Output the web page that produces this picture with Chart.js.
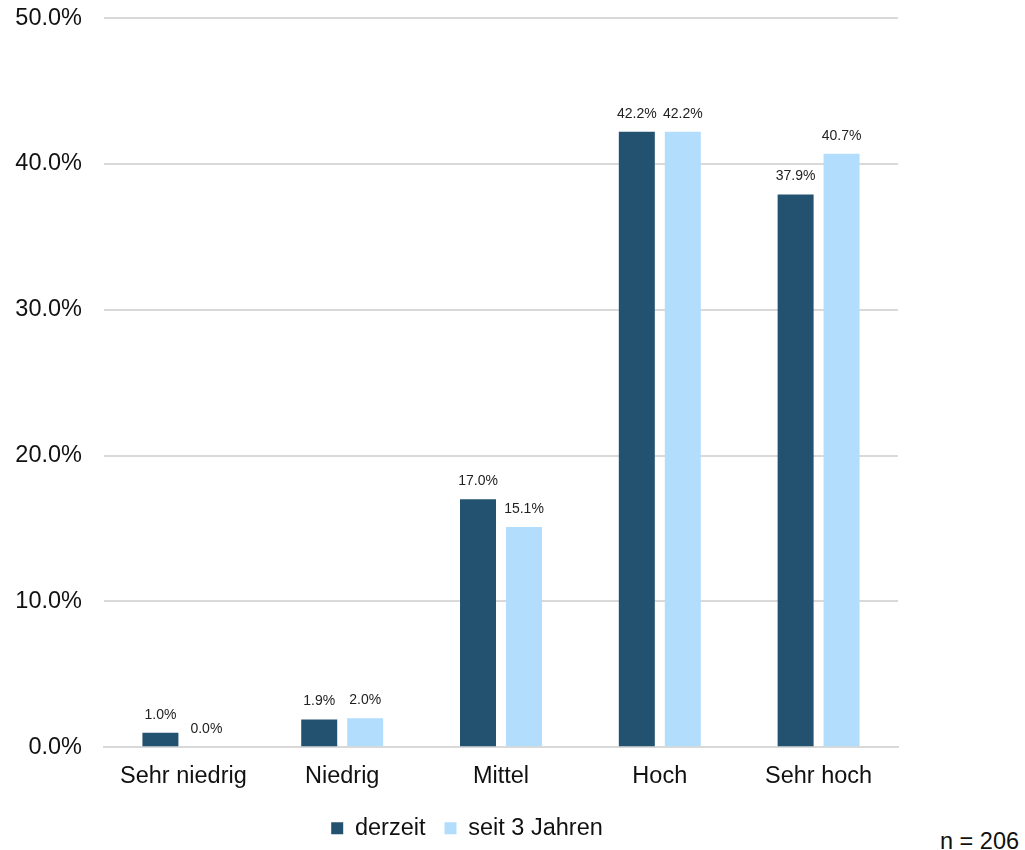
<!DOCTYPE html>
<html>
<head>
<meta charset="utf-8">
<script src="https://cdn.jsdelivr.net/npm/chart.js@4/dist/chart.umd.min.js"></script>
<style>
  body { margin: 0; background: #fff; font-family: "Liberation Sans", Arial, sans-serif; overflow: hidden; }
  #wrap { position: relative; width: 935px; height: 868px; margin-top: -18px; }
  #note { position: absolute; left: 940px; top: 828px; font-size: 23.5px; color: #111; font-family: "Liberation Sans", Arial, sans-serif; }
</style>
</head>
<body>
<div id="wrap"><canvas id="chart"></canvas></div>
<div id="note">n = 206</div>
<script>
// values
var categories = ['Sehr niedrig', 'Niedrig', 'Mittel', 'Hoch', 'Sehr hoch'];
var derzeit = [1.0, 1.9, 17.0, 42.2, 37.9];
var seit3Jahren = [0.0, 2.0, 15.1, 42.2, 40.7];
var seriesNames = ['derzeit', 'seit 3 Jahren'];

var fontFamily = '"Liberation Sans", Arial, sans-serif';

// draws the % value above each bar
const valueLabels = {
    id: 'valueLabels',
    afterDatasetsDraw(chart) {
        const ctx = chart.ctx;
        ctx.save();
        ctx.font = '14px ' + fontFamily;
        ctx.fillStyle = '#222';
        ctx.textAlign = 'center';
        ctx.textBaseline = 'bottom';
        chart.data.datasets.forEach((ds, i) => {
            chart.getDatasetMeta(i).data.forEach((bar, j) => {
                ctx.fillText(ds.data[j].toFixed(1) + '%', bar.x, bar.y - 11);
            });
        });
        ctx.restore();
    }
};

// legend in the original sits a bit right of the plot centre
const legendShift = {
    id: 'legendShift',
    afterLayout(chart) {
        chart.legend.left += 18;
        chart.legend.right += 18;
    }
};

document.addEventListener('DOMContentLoaded', function() {
    const ctx = document.getElementById('chart').getContext('2d');
    new Chart(ctx, {
        type: 'bar',
        data: {
            labels: categories,
            datasets: [{
                label: seriesNames[0],
                data: derzeit,
                backgroundColor: '#235270'
            }, {
                label: seriesNames[1],
                data: seit3Jahren,
                backgroundColor: '#b3ddfc'
            }]
        },
        options: {
            responsive: true,
            maintainAspectRatio: false,
            animation: false,
            datasets: {
                bar: {
                    barPercentage: 0.783,
                    categoryPercentage: 0.579
                }
            },
            layout: {
                padding: { top: 0, right: 37, left: 0, bottom: 0 }
            },
            scales: {
                x: {
                    grid: { display: false },
                    border: { color: '#d9d9d9', width: 2 },
                    ticks: {
                        color: '#111',
                        padding: 7,
                        font: { size: 23.5, family: fontFamily }
                    }
                },
                y: {
                    min: 0,
                    max: 50,
                    afterFit: scale => { scale.width = 104; },
                    grid: { color: '#d9d9d9', lineWidth: 2, drawTicks: false },
                    border: { display: false },
                    ticks: {
                        stepSize: 10,
                        color: '#111',
                        padding: 22,
                        font: { size: 23.5, family: fontFamily },
                        callback: v => v.toFixed(1) + '%'
                    }
                }
            },
            plugins: {
                legend: {
                    position: 'bottom',
                    labels: {
                        boxWidth: 12,
                        boxHeight: 12,
                        padding: 19,
                        color: '#111',
                        font: { size: 23.5, family: fontFamily }
                    }
                },
                tooltip: { enabled: false }
            }
        },
        plugins: [valueLabels, legendShift]
    });
});
</script>
</body>
</html>
